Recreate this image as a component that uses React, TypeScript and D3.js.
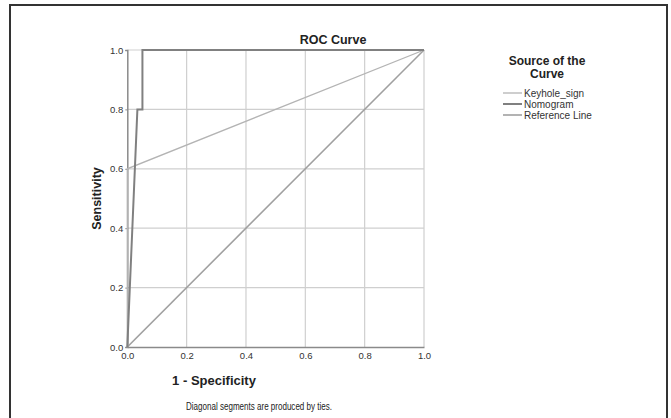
import React, { useEffect, useRef } from 'react';
import * as d3 from 'd3';

const ticks = [0, 0.2, 0.4, 0.6, 0.8, 1.0];

const keyholeFpr = [0, 0, 1];
const keyholeTpr = [0, 0.6, 1];

const nomogramFpr = [0, 0.034, 0.051, 0.051, 1];
const nomogramTpr = [0, 0.8, 0.8, 1, 1];

const refFpr = [0, 1];
const refTpr = [0, 1];

const seriesNames = ['Keyhole_sign', 'Nomogram', 'Reference Line'];
const seriesColors = ['#b4b4b4', '#808080', '#a0a0a0'];
const seriesWidths = [1.3, 2, 1.6];

const App: React.FC = () => {
  const svgRef = useRef<SVGSVGElement>(null);

  useEffect(() => {
    if (!svgRef.current) return;
    const svg = d3.select(svgRef.current);
    svg.selectAll('*').remove();

    const font = 'Liberation Sans, Arial, sans-serif';

    // outer frame
    svg.append('rect')
      .attr('x', 10).attr('y', 5)
      .attr('width', 657).attr('height', 430)
      .attr('fill', '#fff')
      .attr('stroke', '#333').attr('stroke-width', 2);

    const x = d3.scaleLinear().domain([0, 1]).range([127.3, 424]);
    const y = d3.scaleLinear().domain([0, 1]).range([347, 50]);

    const g = svg.append('g');

    // grid
    g.selectAll('.vgrid').data(ticks.slice(1)).enter().append('line')
      .attr('x1', d => x(d)).attr('x2', d => x(d))
      .attr('y1', y(0)).attr('y2', y(1))
      .attr('stroke', '#cfcfcf').attr('stroke-width', 1.2);
    g.selectAll('.hgrid').data(ticks.slice(1)).enter().append('line')
      .attr('x1', x(0)).attr('x2', x(1))
      .attr('y1', d => y(d)).attr('y2', d => y(d))
      .attr('stroke', '#cfcfcf').attr('stroke-width', 1.2);

    // axes
    const xAxis = d3.axisBottom(x).tickValues(ticks).tickSize(0).tickPadding(5)
      .tickFormat(d3.format('.1f') as any);
    const yAxis = d3.axisLeft(y).tickValues(ticks).tickSize(2).tickPadding(2)
      .tickFormat(d3.format('.1f') as any);

    const gx = g.append('g').attr('transform', `translate(0,${y(0)})`).call(xAxis);
    const gy = g.append('g').attr('transform', `translate(${x(0)},0)`).call(yAxis);
    [gx, gy].forEach(a => {
      a.select('.domain').attr('stroke', '#8a8a8a').attr('stroke-width', 1.5);
      a.selectAll('.tick line').attr('stroke', '#8a8a8a');
      a.selectAll('.tick text')
        .attr('fill', '#333')
        .style('font-family', font)
        .style('font-size', '9.5px');
    });

    // curves
    const line = d3.line<[number, number]>().x(d => x(d[0])).y(d => y(d[1]));
    const series: [number, number][][] = [
      keyholeFpr.map((f, i) => [f, keyholeTpr[i]]),
      nomogramFpr.map((f, i) => [f, nomogramTpr[i]]),
      refFpr.map((f, i) => [f, refTpr[i]]),
    ];
    const order = [2, 0, 1];
    order.forEach(i => {
      g.append('path')
        .datum(series[i])
        .attr('d', line)
        .attr('fill', 'none')
        .attr('stroke', seriesColors[i])
        .attr('stroke-width', seriesWidths[i]);
    });

    // title
    svg.append('text')
      .attr('x', 333).attr('y', 44)
      .attr('text-anchor', 'middle')
      .style('font-family', font).style('font-size', '12.5px').style('font-weight', 'bold')
      .attr('fill', '#222')
      .text('ROC Curve');

    // axis titles
    svg.append('text')
      .attr('x', 214).attr('y', 385)
      .attr('text-anchor', 'middle')
      .style('font-family', font).style('font-size', '13px').style('font-weight', 'bold')
      .attr('fill', '#222')
      .text('1 - Specificity');

    svg.append('text')
      .attr('transform', `translate(101,${(y(0) + y(1)) / 2}) rotate(-90)`)
      .attr('text-anchor', 'middle')
      .style('font-family', font).style('font-size', '12.5px').style('font-weight', 'bold')
      .attr('fill', '#222')
      .text('Sensitivity');

    // footnote
    svg.append('text')
      .attr('x', 186).attr('y', 410)
      .attr('textLength', 146)
      .attr('lengthAdjust', 'spacingAndGlyphs')
      .style('font-family', font).style('font-size', '10px')
      .attr('fill', '#222')
      .text('Diagonal segments are produced by ties.');

    // legend
    const legend = svg.append('g');
    legend.append('text')
      .attr('x', 547).attr('y', 65)
      .attr('text-anchor', 'middle')
      .style('font-family', font).style('font-size', '12px').style('font-weight', 'bold')
      .attr('fill', '#222')
      .text('Source of the');
    legend.append('text')
      .attr('x', 547).attr('y', 78)
      .attr('text-anchor', 'middle')
      .style('font-family', font).style('font-size', '12px').style('font-weight', 'bold')
      .attr('fill', '#222')
      .text('Curve');

    const items = legend.selectAll('.item').data(seriesNames).enter().append('g')
      .attr('transform', (d, i) => `translate(503,${93 + i * 11})`);
    items.append('line')
      .attr('x1', 0).attr('x2', 19).attr('y1', 0).attr('y2', 0)
      .attr('stroke', (d, i) => seriesColors[i])
      .attr('stroke-width', (d, i) => seriesWidths[i]);
    items.append('text')
      .attr('x', 21).attr('y', 0).attr('dy', '0.35em')
      .style('font-family', font).style('font-size', '10px')
      .attr('fill', '#333')
      .text(d => d);
  }, []);

  return (
    <svg
      ref={svgRef}
      width={671}
      height={418}
      style={{ position: 'fixed', left: 0, top: 0, display: 'block', background: '#fff' }}
    />
  );
};

export default App;
